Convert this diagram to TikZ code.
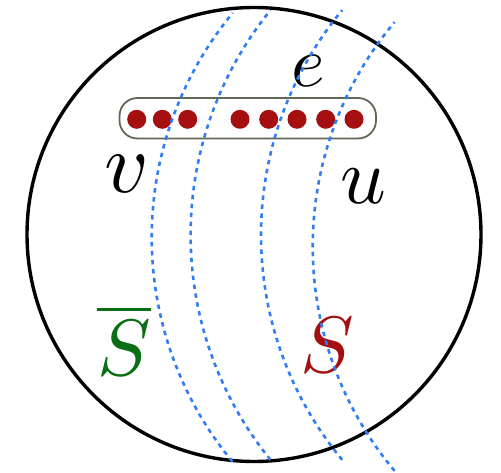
\documentclass[tikz,border=0pt]{standalone}
\usepackage{graphicx}
\definecolor{dotred}{RGB}{165,15,15}
\definecolor{sgreen}{RGB}{10,110,20}
\definecolor{cutblue}{RGB}{50,125,245}
\definecolor{boxline}{RGB}{95,105,85}
\begin{document}
\begin{tikzpicture}[x=1pt,y=-1pt,
  vertexdot/.style={circle,fill=dotred,minimum size=19pt,inner sep=0pt},
  cutline/.style={cutblue,line width=2.6pt,dash pattern=on 4.5pt off 4.5pt},
  biglabel/.style={inner sep=0pt}]
\useasboundingbox (0,0) rectangle (501,473);
% ground set
\draw[line width=3.4pt] (254,234.5) circle[radius=227];
% hyperedge
\draw[boxline,line width=1.8pt,rounded corners=18] (119.5,98) rectangle (376,138.5);
\foreach \i/\xx in {1/136.7,2/162.3,3/187.7,4/240,5/268.7,6/297,7/325.7,8/354}
  \node[vertexdot] (d\i) at (\xx,119.3) {};
% labels
\node[biglabel] (e) at (308,71) {\scalebox{7.2}{$e$}};
\node[biglabel] (v) at (127,174) {\scalebox{8.6}{$v$}};
\node[biglabel] (u) at (363,186) {\scalebox{8.0}{$u$}};
\node[biglabel,sgreen] (sbar) at (124,340) {\scalebox{8.0}{$\overline{S}$}};
\node[biglabel,dotred] (s) at (327,345) {\scalebox{8.0}{$S$}};
% cuts
\draw[cutline] plot[domain=140.4:219.7,samples=80] ({503.3+351.6*cos(\x)},{237.5+351.6*sin(\x)});
\draw[cutline] plot[domain=140.9:219.1,samples=80] ({547+356.4*cos(\x)},{235+356.4*sin(\x)});
\draw[cutline] plot[domain=140.3:219.7,samples=80] ({613+352*cos(\x)},{235+352*sin(\x)});
\draw[cutline] plot[domain=139.9:220.1,samples=80] ({661+348.3*cos(\x)},{246.5+348.3*sin(\x)});
\end{tikzpicture}
\end{document}
